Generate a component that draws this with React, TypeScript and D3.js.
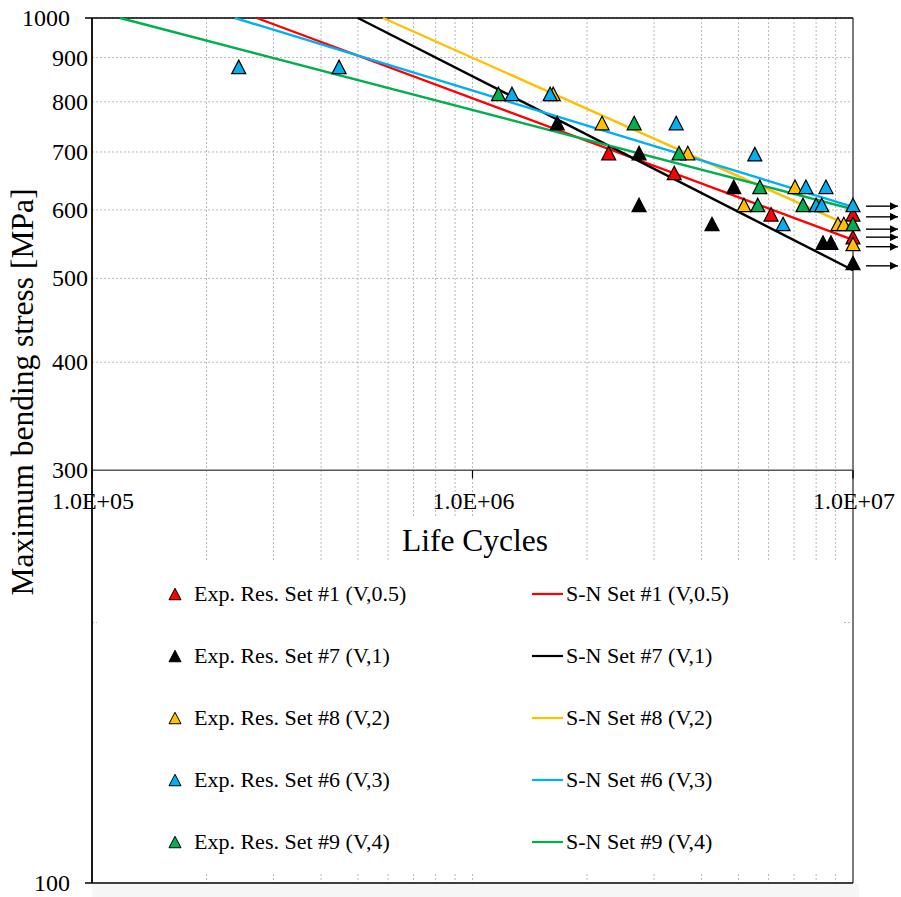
import React from "react";
import * as d3 from "d3";

// ---------- data ----------
const seriesNames = [
  "Exp. Res. Set #1 (V,0.5)",
  "Exp. Res. Set #7 (V,1)",
  "Exp. Res. Set #8 (V,2)",
  "Exp. Res. Set #6 (V,3)",
  "Exp. Res. Set #9 (V,4)",
];
const lineNames = [
  "S-N Set #1 (V,0.5)",
  "S-N Set #7 (V,1)",
  "S-N Set #8 (V,2)",
  "S-N Set #6 (V,3)",
  "S-N Set #9 (V,4)",
];
const seriesColors = ["#FF0000", "#000000", "#FFC000", "#00B0F0", "#00B050"];

const set1N = [2.28e6, 3.39e6, 6.09e6, 1e7, 1e7];
const set1S = [698, 662, 593, 593, 558];
const set7N = [1.67e6, 2.74e6, 2.74e6, 4.26e6, 4.86e6, 8.34e6, 8.75e6, 1e7];
const set7S = [756, 698, 608, 578, 638, 550, 550, 521];
const set8N = [1.63e6, 2.19e6, 3.68e6, 5.17e6, 7.04e6, 9.13e6, 9.46e6, 1e7];
const set8S = [817, 756, 698, 608, 638, 578, 578, 548];
const set6N = [2.43e5, 4.46e5, 1.27e6, 1.6e6, 3.43e6, 5.52e6, 6.55e6, 7.52e6, 8.0e6, 8.28e6, 8.49e6, 1e7];
const set6S = [878, 878, 817, 817, 756, 696, 578, 638, 608, 608, 638, 608];
const set9N = [1.17e6, 2.66e6, 3.49e6, 5.62e6, 5.69e6, 7.39e6, 1e7];
const set9S = [817, 756, 698, 608, 638, 608, 578];

// S-N lines: [N at S=1000, N at end], [S start, S end]
const sn1N = [2.71e5, 1e7];
const sn1S = [1000, 554];
const sn7N = [5.0e5, 1e7];
const sn7S = [1000, 511];
const sn8N = [5.82e5, 1e7];
const sn8S = [1000, 573];
const sn6N = [2.375e5, 1e7];
const sn6S = [1000, 605];
const sn9N = [1.185e5, 1e7];
const sn9S = [1000, 601];

// run-out arrows (stress levels at 1e7 cycles)
const runoutS = [606, 589, 570, 558, 544, 517];

const yTickLabels = [100, 300, 400, 500, 600, 700, 800, 900, 1000];
const yGrid = [200, 300, 400, 500, 600, 700, 800, 900, 1000];
const xTickLabels = [1e5, 1e6, 1e7];

const expN = [set1N, set7N, set8N, set6N, set9N];
const expS = [set1S, set7S, set8S, set6S, set9S];
const snN = [sn1N, sn7N, sn8N, sn6N, sn9N];
const snS = [sn1S, sn7S, sn8S, sn6S, sn9S];

// ---------- layout ----------
const W = 901;
const H = 897;
const L = 92;
const R = 853;
const T = 18;
const B = 883;
const FONT = "'Liberation Serif', 'Times New Roman', serif";

const x = d3.scaleLog().domain([1e5, 1e7]).range([L, R]);
const y = d3.scaleLog().domain([100, 1000]).range([B, T]);

const tri = (cx: number, cy: number, w: number, h: number) =>
  `M${cx},${cy - h / 2}L${cx + w / 2},${cy + h / 2}L${cx - w / 2},${cy + h / 2}Z`;

const fmtE = (v: number) => {
  const e = Math.round(Math.log10(v));
  return `1.0E+${e < 10 ? "0" + e : e}`;
};

export default function App() {
  const minorX: number[] = [];
  for (let d = 1e5; d < 1e7; d *= 10) {
    for (let k = 2; k <= 9; k++) minorX.push(d * k);
  }
  minorX.push(1e6);

  const line = d3
    .line<[number, number]>()
    .x((d) => x(d[0]))
    .y((d) => y(d[1]));

  const legendRows = [594, 656, 718, 780, 842];

  return (
    <svg
      width={W}
      height={H}
      style={{ position: "absolute", left: 0, top: 0, background: "#fff" }}
      fontFamily={FONT}
    >
      <rect x={0} y={0} width={W} height={H} fill="#fff" />
      <rect x={L} y={B + 1} width={R - L + 6} height={H - B - 1} fill="#f6f6f6" />

      {/* grid */}
      <g stroke="#b8b8b8" strokeWidth={1} strokeDasharray="2,2">
        {minorX.map((v, i) => (
          <line key={"gx" + i} x1={x(v)} x2={x(v)} y1={T} y2={B} />
        ))}
        {yGrid.map((v, i) => (
          <line key={"gy" + i} x1={L} x2={R} y1={y(v)} y2={y(v)} />
        ))}
      </g>

      {/* white background of x title & legend */}
      <rect x={400} y={517} width={152} height={43} fill="#fff" />
      <rect x={97} y={562} width={745} height={310} fill="#fff" />

      {/* axes */}
      <line x1={L} x2={R} y1={y(300)} y2={y(300)} stroke="#5a5a5a" strokeWidth={1.6} />
      <line x1={R} x2={R} y1={T} y2={y(300) + 9} stroke="#505050" strokeWidth={1.5} />
      <line x1={R} x2={R} y1={y(300)} y2={B} stroke="#505050" strokeWidth={1.5} />
      <line x1={L - 7} x2={R} y1={T} y2={T} stroke="#000" strokeWidth={1.5} />
      <line x1={L - 7} x2={R} y1={B} y2={B} stroke="#000" strokeWidth={1.5} />
      <line x1={L} x2={L} y1={T} y2={B} stroke="#000" strokeWidth={1.8} />
      {xTickLabels.map((v, i) => (
        <line key={"xt" + i} x1={x(v)} x2={x(v)} y1={y(300)} y2={y(300) + 8} stroke="#000" strokeWidth={1.2} />
      ))}

      {/* y tick labels */}
      {yTickLabels.map((v, i) => {
        const major = v === 100 || v === 1000;
        return (
          <text
            key={"yl" + i}
            x={major ? 70 : 88}
            y={y(v) + 8}
            textAnchor="end"
            fontSize={24}
            fill="#000"
          >
            {v}
          </text>
        );
      })}

      {/* x tick labels */}
      {xTickLabels.map((v, i) => (
        <text key={"xl" + i} x={x(v) + 1} y={509} textAnchor="middle" fontSize={24} fill="#000">
          {fmtE(v)}
        </text>
      ))}

      {/* titles */}
      <text x={475} y={551} textAnchor="middle" fontSize={31.5} fill="#000">
        Life Cycles
      </text>
      <text
        transform={`translate(33, 392) rotate(-90)`}
        textAnchor="middle"
        fontSize={31.5}
        fill="#000"
      >
        Maximum bending stress [MPa]
      </text>

      {/* S-N lines */}
      <g>
        {snN.map((ns, i) => (
          <path
            key={"sn" + i}
            d={line(ns.map((n, j) => [n, snS[i][j]] as [number, number])) || ""}
            fill="none"
            stroke={seriesColors[i]}
            strokeWidth={2.4}
          />
        ))}
      </g>

      {/* run-out arrows */}
      <defs>
        <marker id="ah" viewBox="0 0 10 10" refX="10" refY="5" markerWidth="9" markerHeight="8" markerUnits="userSpaceOnUse" orient="auto">
          <path d="M0,0L10,5L0,10Z" fill="#000" />
        </marker>
      </defs>
      {runoutS.map((s, i) => (
        <line
          key={"ro" + i}
          x1={x(1e7) + 13}
          x2={x(1e7) + 45}
          y1={y(s)}
          y2={y(s)}
          stroke="#000"
          strokeWidth={1.4}
          markerEnd="url(#ah)"
        />
      ))}

      {/* experimental points */}
      {expN.map((ns, i) => (
        <g key={"ex" + i}>
          {ns.map((n, j) => (
            <path
              key={j}
              d={tri(x(n), y(expS[i][j]), 14, 13.5)}
              fill={seriesColors[i]}
              stroke="#000"
              strokeWidth={1.2}
              strokeLinejoin="miter"
            />
          ))}
        </g>
      ))}

      {/* legend */}
      {legendRows.map((ry, i) => (
        <g key={"lg" + i}>
          <path d={tri(175, ry, 12, 11.5)} fill={seriesColors[i]} stroke="#000" strokeWidth={1} />
          <text x={194} y={ry + 7} fontSize={22} fill="#000">
            {seriesNames[i]}
          </text>
          <line x1={532} x2={563} y1={ry} y2={ry} stroke={seriesColors[i]} strokeWidth={2.2} />
          <text x={566} y={ry + 7} fontSize={22} fill="#000">
            {lineNames[i]}
          </text>
        </g>
      ))}
    </svg>
  );
}
